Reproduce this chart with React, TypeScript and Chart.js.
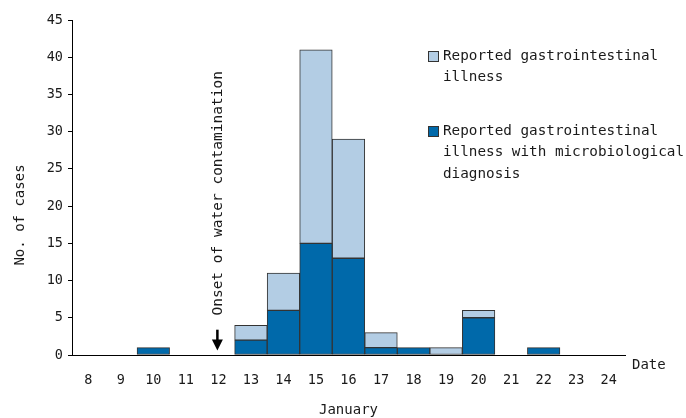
import React, { useEffect, useRef } from 'react';
import { Chart, registerables } from 'chart.js';

Chart.register(...registerables);

const dates = ['8', '9', '10', '11', '12', '13', '14', '15', '16', '17', '18', '19', '20', '21', '22', '23', '24'];
// Cases with microbiological diagnosis (dark)
const microbioCases = [0, 0, 1, 0, 0, 2, 6, 15, 13, 1, 1, 0, 5, 0, 1, 0, 0];
// Additional reported GI illness without microbiological diagnosis (light, stacked on top)
const otherGICases = [0, 0, 0, 0, 0, 2, 5, 26, 16, 2, 0, 1, 1, 0, 0, 0, 0];

const legendLight = ['Reported gastrointestinal', 'illness'];
const legendDark = ['Reported gastrointestinal', 'illness with microbiological', 'diagnosis'];
const onsetLabel = 'Onset of water contamination';
const onsetIndex = 4;
const yTitle = 'No. of cases';
const xTitle = 'January';
const xEndLabel = 'Date';

const DARK = '#0069aa';
const LIGHT = '#b3cde4';
const BORDER = '#333333';
const TEXT = '#1a1a1a';
const FONT = '"DejaVu Sans Mono", monospace';

const overlayPlugin = {
  id: 'overlay',
  afterDraw(chart: any) {
    const ctx = chart.ctx;
    const xs = chart.scales.x;
    const ys = chart.scales.y;
    const area = chart.chartArea;
    ctx.save();
    ctx.fillStyle = TEXT;

    // Y title
    ctx.font = `14px ${FONT}`;
    ctx.save();
    ctx.translate(20, 215);
    ctx.rotate(-Math.PI / 2);
    ctx.textAlign = 'center';
    ctx.textBaseline = 'middle';
    ctx.fillText(yTitle, 0, 0);
    ctx.restore();

    // X title
    ctx.textAlign = 'center';
    ctx.textBaseline = 'middle';
    ctx.fillText(xTitle, (area.left + area.right) / 2, 410);

    // Date label
    ctx.textAlign = 'left';
    ctx.fillText(xEndLabel, area.right + 7, 365);

    // Onset annotation
    const ox = xs.getPixelForValue(onsetIndex);
    ctx.save();
    ctx.translate(ox, ys.getPixelForValue(5.3));
    ctx.rotate(-Math.PI / 2);
    ctx.font = `14.5px ${FONT}`;
    ctx.textAlign = 'left';
    ctx.textBaseline = 'middle';
    ctx.fillText(onsetLabel, 0, 0);
    ctx.restore();

    // Arrow
    const yTop = ys.getPixelForValue(3.4);
    const yTip = ys.getPixelForValue(0.6);
    ctx.strokeStyle = '#000';
    ctx.fillStyle = '#000';
    ctx.lineWidth = 2.5;
    ctx.beginPath();
    ctx.moveTo(ox - 1, yTop);
    ctx.lineTo(ox - 1, yTip - 8);
    ctx.stroke();
    ctx.beginPath();
    ctx.moveTo(ox - 6.5, yTip - 11);
    ctx.lineTo(ox + 4.5, yTip - 11);
    ctx.lineTo(ox - 1, yTip);
    ctx.closePath();
    ctx.fill();

    // Legend
    const drawEntry = (lines: string[], color: string, y0: number) => {
      ctx.fillStyle = color;
      ctx.fillRect(428, y0 - 5, 10, 10);
      ctx.strokeStyle = BORDER;
      ctx.lineWidth = 1;
      ctx.strokeRect(428.5, y0 - 4.5, 10, 10);
      ctx.fillStyle = TEXT;
      ctx.font = `14.3px ${FONT}`;
      ctx.textAlign = 'left';
      ctx.textBaseline = 'middle';
      lines.forEach((l, i) => ctx.fillText(l, 443, y0 + i * 21.5));
    };
    drawEntry(legendLight, LIGHT, 56);
    drawEntry(legendDark, DARK, 131);

    ctx.restore();
  },
};

export default function App() {
  const ref = useRef<HTMLCanvasElement | null>(null);
  useEffect(() => {
    if (!ref.current) return;
    const toData = (a: number[]) => a.map((v) => (v === 0 ? null : v));
    const chart = new Chart(ref.current, {
      type: 'bar',
      data: {
        labels: dates,
        datasets: [
          {
            label: legendDark.join(' '),
            data: toData(microbioCases),
            backgroundColor: DARK,
            borderColor: BORDER,
            borderWidth: 1,
            borderSkipped: false,
            barPercentage: 1,
            categoryPercentage: 1,
          },
          {
            label: legendLight.join(' '),
            data: toData(otherGICases),
            backgroundColor: LIGHT,
            borderColor: BORDER,
            borderWidth: 1,
            borderSkipped: false,
            barPercentage: 1,
            categoryPercentage: 1,
          },
        ],
      },
      options: {
        animation: false,
        responsive: false,
        maintainAspectRatio: false,
        layout: { padding: { left: 0, top: 20, right: 61, bottom: 0 } },
        plugins: { legend: { display: false }, tooltip: { enabled: false } },
        scales: {
          x: {
            stacked: true,
            offset: true,
            grid: { display: false, drawTicks: false },
            border: { display: true, color: '#000', width: 1 },
            ticks: {
              color: TEXT,
              font: { family: FONT, size: 13.5 },
              padding: 17,
              maxRotation: 0,
              autoSkip: false,
            },
            afterFit: (s: any) => {
              s.height = 63;
            },
          },
          y: {
            stacked: true,
            min: 0,
            max: 45,
            grid: { display: true, drawOnChartArea: false, drawTicks: true, tickLength: 4, color: '#000' },
            border: { display: true, color: '#000', width: 1 },
            ticks: {
              stepSize: 5,
              color: TEXT,
              font: { family: FONT, size: 13.5 },
              padding: 5,
            },
            afterFit: (s: any) => {
              s.width = 72;
            },
          },
        },
      },
      plugins: [overlayPlugin],
    });
    return () => chart.destroy();
  }, []);
  return (
    <div style={{ position: 'fixed', left: 0, top: 0, width: 686, height: 418, background: '#fff' }}>
      <canvas ref={ref} width={686} height={418} style={{ width: 686, height: 418 }} />
    </div>
  );
}
